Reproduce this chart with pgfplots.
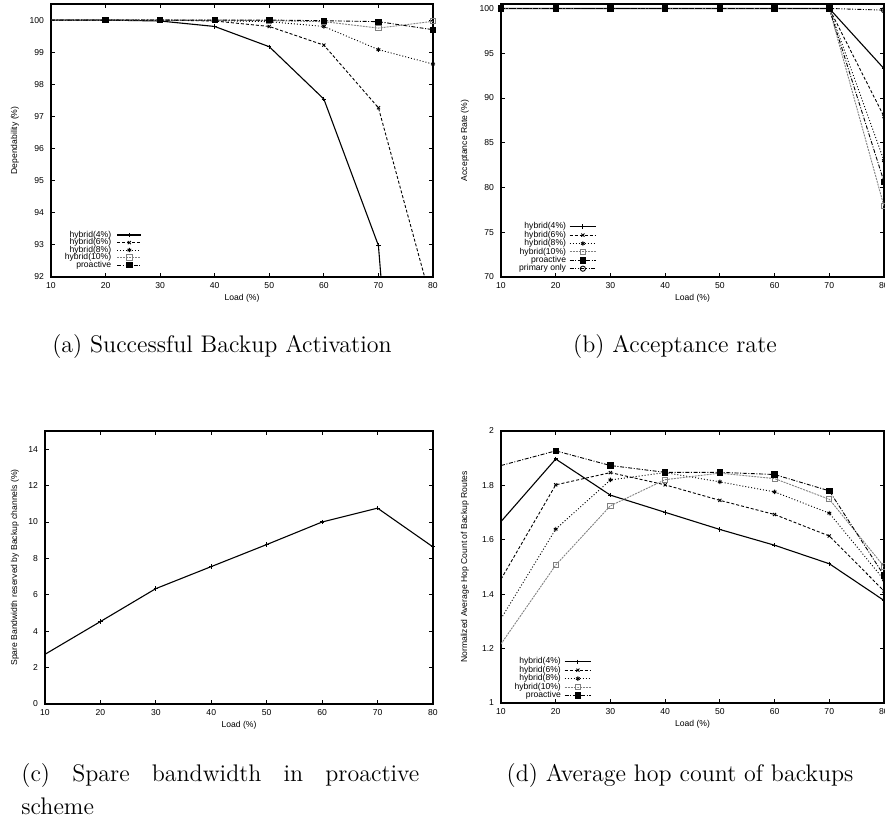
\documentclass[border=0pt]{standalone}
\usepackage{fontspec}
\usepackage{pgfplots}
\pgfplotsset{compat=1.18}
\newfontfamily\gp{Liberation Sans}
\newcommand\gpf{\gp\fontsize{4.3}{4.3}\selectfont}
\pgfplotsset{
  gnu/.style={
    scale only axis,
    anchor=south west,
    xmin=10,xmax=80,
    xtick={10,20,...,80},
    tick align=inside,
    major tick length=2pt,
    axis line style={line width=0.6pt},
    every tick/.style={black, line width=0.4pt},
    tick label style={font=\gpf, inner sep=0pt},
    /pgf/number format/assume math mode=true,
    xticklabel style={anchor=base, yshift=-5.6pt},
    yticklabel style={anchor=east, xshift=-3.3pt},
    every axis x label/.style={at={(rel axis cs:0.5,0)}, anchor=base, yshift=-12pt, font=\gpf},
    xlabel={Load (\%)},
    legend plot pos=right,
    legend cell align=right,
    legend style={draw=none, fill=none, font=\gpf, inner sep=0pt, outer sep=0pt, anchor=south east},
  },
  ylab/.style={every axis y label/.style={at={(rel axis cs:0,0.5)}, xshift=-#1, rotate=90, anchor=center, font=\gpf}},
  s1/.style={black, line width=0.55pt, mark=+, mark size=1.1pt, mark options={solid}},
  s2/.style={black, line width=0.45pt, dash pattern=on 1.5pt off 1pt, mark=x, mark size=1.1pt, mark options={solid}},
  s3/.style={black, line width=0.45pt, dash pattern=on 0.5pt off 1pt, mark=asterisk, mark size=1.1pt, mark options={solid}},
  s4/.style={gray, line width=0.45pt, dash pattern=on 1pt off 0.5pt, mark=square, mark size=1.3pt, mark options={solid}},
  s5/.style={black, line width=0.45pt, dash pattern=on 2pt off 0.8pt on 0.5pt off 0.8pt, mark=square*, mark size=1.35pt, mark options={solid}},
  s6/.style={black, line width=0.45pt, dash pattern=on 2pt off 0.8pt on 0.5pt off 0.8pt on 0.5pt off 0.8pt, mark=o, mark size=1.3pt, mark options={solid}},
}
\begin{document}
\begin{tikzpicture}
% (a)
\begin{axis}[gnu, ylab=18pt, at={(25.5pt,273.5pt)}, width=191pt, height=136.5pt,
  ymin=92, ymax=100.5, ytick={92,93,...,100}, ylabel={Dependability (\%)},
  legend style={at={(0.238,0.03)}, nodes={inner sep=0pt, text height=2.9pt, text depth=0.85pt}, column sep=2.8pt},
  legend image code/.code={\draw[#1, mark indices={2}] plot coordinates {(0pt,0pt) (6pt,0pt) (12pt,0pt)};},
  mark indices={2,3,4,5,6,7,8}]
\addplot[s1] coordinates {(10,100)(20,100)(30,99.97)(40,99.8)(50,99.17)(60,97.54)(70,92.98)(80,72)};
\addplot[s2] coordinates {(10,100)(20,100)(30,100)(40,99.97)(50,99.8)(60,99.22)(70,97.27)(80,91.05)};
\addplot[s3] coordinates {(10,100)(20,100)(30,100)(40,99.98)(50,99.95)(60,99.8)(70,99.08)(80,98.63)};
\addplot[s4] coordinates {(10,100)(20,100)(30,100)(40,100)(50,99.98)(60,99.95)(70,99.75)(80,99.96)};
\addplot[s5] coordinates {(10,100)(20,100)(30,100)(40,100)(50,100)(60,99.98)(70,99.95)(80,99.7)};
\legend{hybrid(4\%),hybrid(6\%),hybrid(8\%),hybrid(10\%),proactive}
\end{axis}
% (b)
\begin{axis}[gnu, ylab=18pt, at={(250.5pt,273.5pt)}, width=191.5pt, height=136.5pt,
  ymin=70, ymax=100.5, ytick={70,75,...,100}, ylabel={Acceptance Rate (\%)},
  legend style={at={(0.25,0.015)}, nodes={inner sep=0pt, text height=3.2pt, text depth=1pt}, column sep=1.5pt},
  legend image code/.code={\draw[#1, mark indices={2}] plot coordinates {(0pt,0pt) (6.65pt,0pt) (13.3pt,0pt)};}]
\addplot[s1] coordinates {(10,100)(20,100)(30,100)(40,100)(50,100)(60,100)(70,100)(80,93.28)};
\addplot[s2] coordinates {(10,100)(20,100)(30,100)(40,100)(50,100)(60,100)(70,100)(80,87.93)};
\addplot[s3] coordinates {(10,100)(20,100)(30,100)(40,100)(50,100)(60,100)(70,100)(80,83.0)};
\addplot[s4] coordinates {(10,100)(20,100)(30,100)(40,100)(50,100)(60,100)(70,100)(80,77.92)};
\addplot[s5] coordinates {(10,100)(20,100)(30,100)(40,100)(50,100)(60,100)(70,100)(80,80.65)};
\addplot[s6] coordinates {(10,100)(20,100)(30,100)(40,100)(50,100)(60,100)(70,100)(80,99.81)};
\legend{hybrid(4\%),hybrid(6\%),hybrid(8\%),hybrid(10\%),proactive,primary only}
\end{axis}
% (c)
\begin{axis}[gnu, ylab=15pt, at={(22.5pt,60pt)}, width=194pt, height=136.5pt,
  ymin=0, ymax=15, ytick={0,2,...,14}, ylabel={Spare Bandwidth reserved by Backup channels (\%)},
  mark indices={2,3,4,5,6,7,8}]
\addplot[s1] coordinates {(10,2.73)(20,4.53)(30,6.34)(40,7.55)(50,8.76)(60,10.0)(70,10.76)(80,8.63)};
\end{axis}
% (d)
\begin{axis}[gnu, ylab=18pt, at={(250.5pt,60.5pt)}, width=191.5pt, height=136pt,
  ymin=1, ymax=2, ytick={1,1.2,1.4,1.6,1.8,2}, ylabel={Normalized Average Hop Count of Backup Routes},
  legend style={at={(0.237,0.0125)}, nodes={inner sep=0pt, text height=3.2pt, text depth=1pt}, column sep=1.6pt},
  legend image code/.code={\draw[#1, mark indices={2}] plot coordinates {(0pt,0pt) (6.65pt,0pt) (13.3pt,0pt)};},
  mark indices={2,3,4,5,6,7,8}]
\addplot[s1] coordinates {(10,1.667)(20,1.897)(30,1.764)(40,1.701)(50,1.638)(60,1.580)(70,1.512)(80,1.377)};
\addplot[s2] coordinates {(10,1.455)(20,1.802)(30,1.847)(40,1.802)(50,1.745)(60,1.693)(70,1.614)(80,1.412)};
\addplot[s3] coordinates {(10,1.310)(20,1.639)(30,1.820)(40,1.847)(50,1.813)(60,1.776)(70,1.698)(80,1.453)};
\addplot[s4] coordinates {(10,1.217)(20,1.507)(30,1.725)(40,1.821)(50,1.845)(60,1.825)(70,1.749)(80,1.502)};
\addplot[s5] coordinates {(10,1.873)(20,1.927)(30,1.873)(40,1.848)(50,1.848)(60,1.840)(70,1.780)(80,1.469)};
\legend{hybrid(4\%),hybrid(6\%),hybrid(8\%),hybrid(10\%),proactive}
\end{axis}
% captions
\begingroup
\fontsize{12}{16.5}\selectfont
\node[anchor=base, inner sep=0pt] at (111pt,235.5pt) {(a) Successful Backup Activation};
\node[anchor=base, inner sep=0pt] at (337.5pt,235.5pt) {(b) Acceptance rate};
\node[anchor=base west, inner sep=0pt] at (10.5pt,21pt) {\makebox[199pt][s]{(c)\ Spare bandwidth in proactive}};
\node[anchor=base west, inner sep=0pt] at (10.5pt,4.5pt) {scheme};
\node[anchor=base, inner sep=0pt] at (340pt,21pt) {(d) Average hop count of backups};
\endgroup
\pgfresetboundingbox
\path[use as bounding box] (0,0) rectangle (442.5pt,412pt);
\end{tikzpicture}
\end{document}
